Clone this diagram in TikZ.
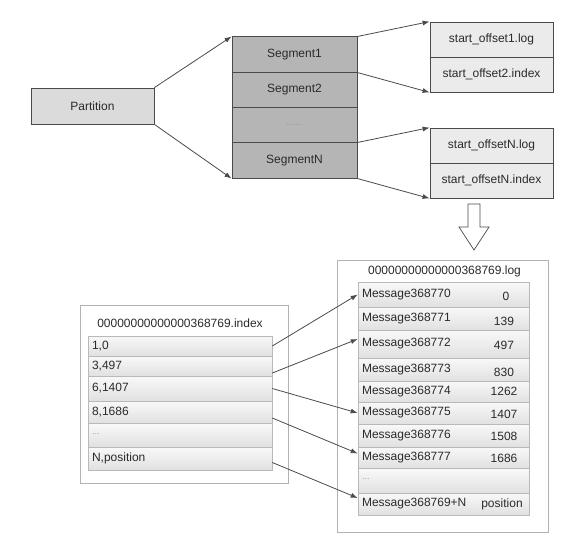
\documentclass[tikz,border=0pt]{standalone}
\usepackage{fontspec}
\setmainfont{Liberation Sans}
\usetikzlibrary{arrows.meta,calc}
\definecolor{txt}{HTML}{2A2A2A}
\definecolor{edge}{HTML}{4A4A4A}
\begin{document}
\begin{tikzpicture}[x=1pt,y=-1pt,
  font=\fontsize{12}{14}\selectfont, text=txt,
  part/.style={draw=edge, fill=gray!28, line width=0.8pt, minimum width=123pt, minimum height=36pt, inner sep=0},
  seg/.style={draw=edge, fill=gray!58, line width=0.8pt, minimum width=125pt, minimum height=35.25pt, inner sep=0},
  file/.style={draw=edge, fill=gray!16, line width=0.8pt, minimum width=123pt, minimum height=35pt, inner sep=0},
  outer/.style={draw=gray!60, line width=0.8pt, inner sep=0},
  irow/.style={draw=gray!55, top color=gray!5, bottom color=gray!24, line width=0.6pt, text width=176pt, align=left, inner xsep=4pt, inner ysep=0, minimum height=#1},
  lrow/.style={draw=gray!55, top color=gray!5, bottom color=gray!24, line width=0.6pt, text width=163pt, align=left, inner xsep=4pt, inner ysep=0, minimum height=#1},
  num/.style={inner sep=0},
  arr/.style={-{Latex[length=7pt,width=5pt]}, draw=edge, line width=0.8pt},
  hollow/.style={draw=edge, fill=white, line width=0.7pt}
]
\useasboundingbox (0,0) rectangle (588,542);

% top part
\node[part] (part) at (92.5,106) {Partition};
\node[seg] (s1) at (294.5,54.5) {Segment1};
\node[seg] (s2) at (294.5,90) {Segment2};
\node[seg] (s3) at (294.5,125.5) {\footnotesize\color{gray!85}.......};
\node[seg] (s4) at (294.5,160.5) {SegmentN};

\node[file] (f1) at (491.5,39.5) {start\_offset1.log};
\node[file] (f2) at (491.5,74.5) {start\_offset2.index};
\node[file] (f3) at (491.5,145.5) {start\_offsetN.log};
\node[file] (f4) at (491.5,180.5) {start\_offsetN.index};

\draw[arr] (part.north east) -- (s1.north west);
\draw[arr] (part.south east) -- (s4.south west);
\draw[arr] (s1.north east) -- (f1.north west);
\draw[arr] (s1.south east) -- (f2.south west);
\draw[arr] (s4.north east) -- (f3.north west);
\draw[arr] (s4.south east) -- (f4.south west);

\draw[hollow] (468,204) -- (480,204) -- (480,227) -- (489,227) -- (474,250) -- (459,227) -- (468,227) -- cycle;

% index file
\node[outer, minimum width=208pt, minimum height=178pt] (ibox) at (184,394) {};
\node[inner sep=0] (ititle) at (180,323) {00000000000000368769.index};
\node[irow=20pt] (i1) at (180,346) {1,0};
\node[irow=20pt] (i2) at (180,366) {3,497};
\node[irow=25pt] (i3) at (180,388.5) {6,1407};
\node[irow=22pt] (i4) at (180,412) {8,1686};
\node[irow=24pt] (i5) at (180,435) {\textcolor{gray!75}{\raisebox{2pt}{\small...}}};
\node[irow=23pt] (i6) at (180,458.5) {N,position};

% log file
\node[outer, minimum width=211pt, minimum height=272pt] (lbox) at (442.5,396) {};
\node[inner sep=0] (ltitle) at (444.5,271) {00000000000000368769.log};
\node[lrow=25pt] (l1) at (443.5,294.5) {Message368770};
\node[lrow=23pt] (l2) at (443.5,318.5) {Message368771};
\node[lrow=28pt] (l3) at (443.5,344) {Message368772};
\node[lrow=23pt] (l4) at (443.5,369.5) {Message368773};
\node[lrow=21pt] (l5) at (443.5,391.5) {Message368774};
\node[lrow=22pt] (l6) at (443.5,413) {Message368775};
\node[lrow=23pt] (l7) at (443.5,435.5) {Message368776};
\node[lrow=21pt] (l8) at (443.5,457.5) {Message368777};
\node[lrow=25pt] (l9) at (443.5,480.5) {\textcolor{gray!75}{\raisebox{2pt}{\small...}}};
\node[lrow=22pt] (l10) at (443.5,504) {Message368769+N};

\node[num] (n1) at (506,296) {0};
\node[num] (n2) at (504,321) {139};
\node[num] (n3) at (504,345) {497};
\node[num] (n4) at (504,372) {830};
\node[num] (n5) at (504,391) {1262};
\node[num] (n6) at (504,414) {1407};
\node[num] (n7) at (504,436) {1508};
\node[num] (n8) at (504,458) {1686};
\node[num] (n10) at (502,504) {position};

% index -> log arrows
\draw[arr] (i1.east) -- (l1.west);
\draw[arr] ([yshift=-7pt]i2.east) -- ([yshift=5pt]l3.west);
\draw[arr] (i3.east) -- (l6.west);
\draw[arr] ([yshift=-6pt]i4.east) -- ([yshift=4pt]l8.west);
\draw[arr] ([yshift=-4pt]i6.east) -- ([yshift=6pt]l10.west);
\end{tikzpicture}
\end{document}
